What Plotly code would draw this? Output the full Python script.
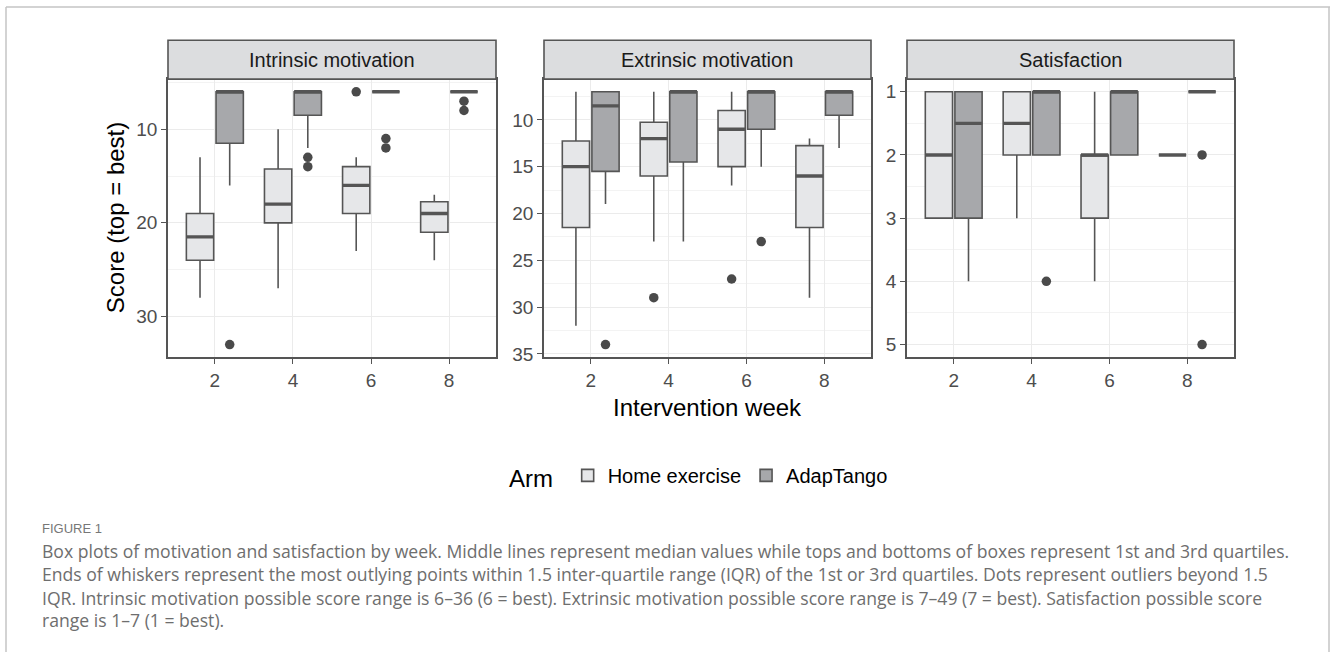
import plotly.graph_objects as go

W, H = 1330, 659

weeks = [2, 4, 6, 8]
arms = ["Home exercise", "AdapTango"]
panels = ["Intrinsic motivation", "Extrinsic motivation", "Satisfaction"]

# ---- Intrinsic motivation ----
im_home_lf = [13, 10, 13, 17]
im_home_q1 = [19, 14.25, 14, 17.75]
im_home_med = [21.5, 18, 16, 19]
im_home_q3 = [24, 20, 19, 21]
im_home_uf = [28, 27, 23, 24]
im_home_out_x = [6]
im_home_out_y = [6]

im_adap_lf = [6, 6, 6, 6]
im_adap_q1 = [6, 6, 6, 6]
im_adap_med = [6, 6, 6, 6]
im_adap_q3 = [11.5, 8.5, 6, 6]
im_adap_uf = [16, 12, 6, 6]
im_adap_out_x = [2, 4, 4, 6, 6, 8, 8]
im_adap_out_y = [33, 13, 14, 11, 12, 7, 8]

# ---- Extrinsic motivation ----
em_home_lf = [7, 7, 7, 12]
em_home_q1 = [12.25, 10.25, 9, 12.75]
em_home_med = [15, 12, 11, 16]
em_home_q3 = [21.5, 16, 15, 21.5]
em_home_uf = [32, 23, 17, 29]
em_home_out_x = [4, 6]
em_home_out_y = [29, 27]

em_adap_lf = [7, 7, 7, 7]
em_adap_q1 = [7, 7, 7, 7]
em_adap_med = [8.5, 7, 7, 7]
em_adap_q3 = [15.5, 14.5, 11, 9.5]
em_adap_uf = [19, 23, 15, 13]
em_adap_out_x = [2, 6]
em_adap_out_y = [34, 23]

# ---- Satisfaction ----
sa_home_lf = [1, 1, 1, 2]
sa_home_q1 = [1, 1, 2, 2]
sa_home_med = [2, 1.5, 2, 2]
sa_home_q3 = [3, 2, 3, 2]
sa_home_uf = [3, 3, 4, 2]
sa_home_out_x = []
sa_home_out_y = []

sa_adap_lf = [1, 1, 1, 1]
sa_adap_q1 = [1, 1, 1, 1]
sa_adap_med = [1.5, 1, 1, 1]
sa_adap_q3 = [3, 2, 2, 1]
sa_adap_uf = [4, 2, 2, 1]
sa_adap_out_x = [4, 8, 8]
sa_adap_out_y = [4, 2, 5]

y_ranges = [[34.35, 4.65], [35.35, 5.65], [5.2, 0.8]]
y_ticks = [[10, 20, 30], [10, 15, 20, 25, 30, 35], [1, 2, 3, 4, 5]]
y_minor = [[5, 15, 25, 35], [7.5, 12.5, 17.5, 22.5, 27.5, 32.5], [1.5, 2.5, 3.5, 4.5]]
x_range = [0.8, 9.2]

data = [
    [
        (im_home_lf, im_home_q1, im_home_med, im_home_q3, im_home_uf, im_home_out_x, im_home_out_y),
        (im_adap_lf, im_adap_q1, im_adap_med, im_adap_q3, im_adap_uf, im_adap_out_x, im_adap_out_y),
    ],
    [
        (em_home_lf, em_home_q1, em_home_med, em_home_q3, em_home_uf, em_home_out_x, em_home_out_y),
        (em_adap_lf, em_adap_q1, em_adap_med, em_adap_q3, em_adap_uf, em_adap_out_x, em_adap_out_y),
    ],
    [
        (sa_home_lf, sa_home_q1, sa_home_med, sa_home_q3, sa_home_uf, sa_home_out_x, sa_home_out_y),
        (sa_adap_lf, sa_adap_q1, sa_adap_med, sa_adap_q3, sa_adap_uf, sa_adap_out_x, sa_adap_out_y),
    ],
]

fills = ["#e6e7e9", "#a7a8ab"]
line_col = "#555555"
dot_col = "#4a4a4a"

BOXGAP = 0.24
BOXGROUPGAP = 0.08
half_step = (weeks[1] - weeks[0]) / 2
offsets = [-(1 - BOXGAP) * half_step / 2, (1 - BOXGAP) * half_step / 2]
box_half = half_step * (1 - BOXGAP) * (1 - BOXGROUPGAP) / 2

# pixel layout
plot_top, plot_bot = 80, 361
strip_top = 40.7
x_px = [(168, 496), (544, 871), (907, 1234)]
px_per_unit = (x_px[0][1] - x_px[0][0]) / (x_range[1] - x_range[0])

FONT = "Liberation Sans, Arial, Helvetica, sans-serif"
SMALL = 19
BIG = 24

fig = go.Figure()
for p in range(3):
    xa = "x" if p == 0 else f"x{p+1}"
    ya = "y" if p == 0 else f"y{p+1}"
    for a in range(2):
        lf, q1, med, q3, uf, ox, oy = data[p][a]
        fig.add_trace(go.Box(
            x=weeks, q1=q1, median=med, q3=q3, lowerfence=lf, upperfence=uf,
            name=arms[a], offsetgroup=str(a), legendgroup=arms[a],
            showlegend=(p == 0), fillcolor=fills[a],
            line=dict(color=line_col, width=1.6), whiskerwidth=0,
            xaxis=xa, yaxis=ya, hoverinfo="skip",
        ))
        # thicker median lines (ggplot fatten); line-ew marker length = 1.4 * size
        fig.add_trace(go.Scatter(
            x=[w + offsets[a] for w in weeks], y=med, mode="markers",
            marker=dict(symbol="line-ew", size=2 * box_half * px_per_unit / 1.4,
                        line=dict(color=line_col, width=3.4)),
            showlegend=False, xaxis=xa, yaxis=ya, hoverinfo="skip",
        ))
        if ox:
            fig.add_trace(go.Scatter(
                x=[w + offsets[a] for w in ox], y=oy, mode="markers",
                marker=dict(color=dot_col, size=9.5),
                showlegend=False, xaxis=xa, yaxis=ya, hoverinfo="skip",
            ))

layout = dict(
    width=W, height=H, margin=dict(l=0, r=0, t=0, b=0),
    paper_bgcolor="white", plot_bgcolor="white",
    font=dict(family=FONT, color="#4d4d4d"),
    boxmode="group", boxgap=BOXGAP, boxgroupgap=BOXGROUPGAP,
    legend=dict(
        orientation="h", x=700 / W, xanchor="center", y=1 - 482 / H, yanchor="middle",
        title=dict(text="Arm ", font=dict(size=BIG, color="black", family=FONT)),
        font=dict(size=20, color="black", family=FONT),
        itemwidth=30, traceorder="normal", valign="middle",
    ),
)

ydom = [1 - plot_bot / H, 1 - plot_top / H]
shapes = []
annotations = []
for p in range(3):
    sx = "" if p == 0 else str(p + 1)
    dom = [x_px[p][0] / W, x_px[p][1] / W]
    layout["xaxis" + sx] = dict(
        domain=dom, range=x_range, anchor="y" + sx, tickvals=weeks,
        showgrid=True, gridcolor="#ebebeb", gridwidth=1.2,
        showline=True, linecolor=line_col, linewidth=1.6, mirror=True,
        ticks="outside", ticklen=5, tickcolor=line_col, tickwidth=1.2,
        tickfont=dict(size=SMALL, color="#4d4d4d", family=FONT), zeroline=False,
    )
    layout["yaxis" + sx] = dict(
        domain=ydom, range=y_ranges[p], anchor="x" + sx, tickvals=y_ticks[p],
        showgrid=True, gridcolor="#ebebeb", gridwidth=1.2,
        minor=dict(tickvals=y_minor[p], showgrid=True, gridcolor="#f3f3f3", gridwidth=0.7, ticks=""),
        showline=True, linecolor=line_col, linewidth=1.6, mirror=True,
        ticks="outside", ticklen=5, tickcolor=line_col, tickwidth=1.2,
        tickfont=dict(size=SMALL, color="#4d4d4d", family=FONT), zeroline=False,
    )
    shapes.append(dict(type="rect", xref="paper", yref="paper",
                       x0=dom[0], x1=dom[1], y0=1 - plot_top / H, y1=1 - strip_top / H,
                       fillcolor="#dcdddf", line=dict(color=line_col, width=1.6), layer="above"))
    annotations.append(dict(text=panels[p], xref="paper", yref="paper",
                            x=(dom[0] + dom[1]) / 2, y=1 - (plot_top + strip_top) / 2 / H,
                            xanchor="center", yanchor="middle",
                            showarrow=False, font=dict(size=20, color="#1a1a1a", family=FONT)))

# frame lines
frame_col = "#c4c4c4"
shapes += [
    dict(type="line", xref="paper", yref="paper", x0=6 / W, x1=1, y0=1 - 7 / H, y1=1 - 7 / H,
         line=dict(color=frame_col, width=1.5)),
    dict(type="line", xref="paper", yref="paper", x0=6 / W, x1=6 / W, y0=0, y1=1 - 7 / H,
         line=dict(color=frame_col, width=1.5)),
    dict(type="line", xref="paper", yref="paper", x0=1329 / W, x1=1329 / W, y0=0, y1=1 - 7 / H,
         line=dict(color=frame_col, width=1.5)),
]

annotations.append(dict(text="Score (top = best)", xref="paper", yref="paper",
                        x=115 / W, y=1 - 220.5 / H, textangle=-90, showarrow=False,
                        xanchor="center", yanchor="middle",
                        font=dict(size=BIG, color="black", family=FONT)))
annotations.append(dict(text="Intervention week", xref="paper", yref="paper",
                        x=707.5 / W, y=1 - 412 / H, showarrow=False,
                        xanchor="center", yanchor="middle",
                        font=dict(size=BIG, color="black", family=FONT)))

CAP_FONT = "Open Sans, Lato, sans-serif"
annotations.append(dict(text="FIGURE 1", xref="paper", yref="paper", x=40 / W, y=1 - 534 / H,
                        xanchor="left", yanchor="middle", showarrow=False,
                        font=dict(size=13, color="#777777", family="Liberation Sans Narrow, Liberation Sans, sans-serif")))
caption_lines = [
    "Box plots of motivation and satisfaction by week. Middle lines represent median values while tops and bottoms of boxes represent 1st and 3rd quartiles.",
    "Ends of whiskers represent the most outlying points within 1.5 inter-quartile range (IQR) of the 1st or 3rd quartiles. Dots represent outliers beyond 1.5",
    "IQR. Intrinsic motivation possible score range is 6–36 (6 = best). Extrinsic motivation possible score range is 7–49 (7 = best). Satisfaction possible score",
    "range is 1–7 (1 = best).",
]
cap_y = [557, 580, 604, 627]
for txt, yy in zip(caption_lines, cap_y):
    annotations.append(dict(text=txt, xref="paper", yref="paper", x=40 / W, y=1 - yy / H,
                            xanchor="left", yanchor="middle", showarrow=False,
                            font=dict(size=17.6, color="#6e6e6e", family=CAP_FONT)))

layout["shapes"] = shapes
layout["annotations"] = annotations
fig.update_layout(**layout)
fig.write_html("out.html", config={"displayModeBar": False},
               post_script="document.body.style.margin='0';document.body.style.overflow='hidden';")
